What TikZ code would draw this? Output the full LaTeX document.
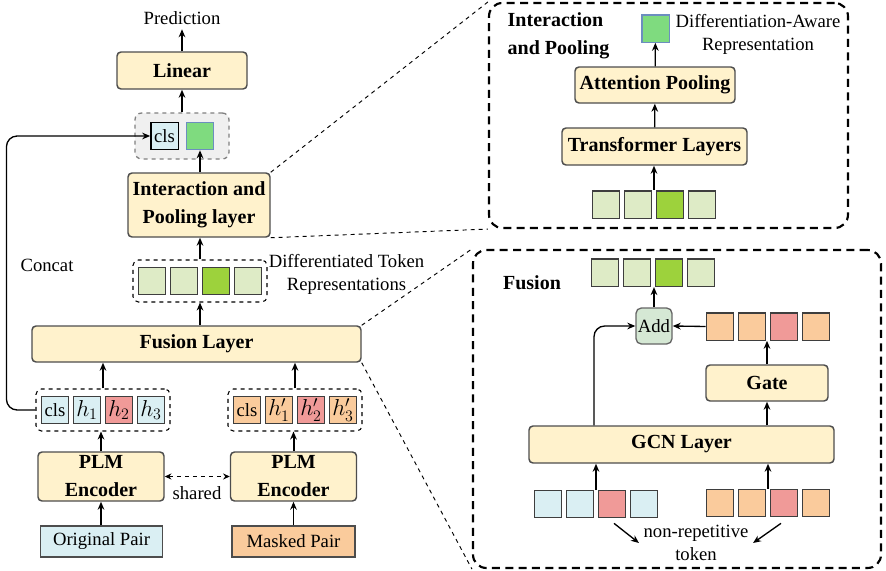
\documentclass[tikz,border=0pt]{standalone}
\usepackage{fontspec}
\setmainfont{Liberation Serif}
\usetikzlibrary{arrows.meta,fit,calc}

\definecolor{boxfill}{HTML}{FFF2CC}
\definecolor{boxline}{HTML}{4D4D4D}
\definecolor{tokcyan}{HTML}{DAEFF3}
\definecolor{tokred}{HTML}{F09A98}
\definecolor{tokorange}{HTML}{FACB9C}
\definecolor{toklight}{HTML}{DEEBC6}
\definecolor{tokdark}{HTML}{9DD23C}
\definecolor{awgreen}{HTML}{7FDB7F}
\definecolor{awline}{HTML}{6C8EBF}
\definecolor{addfill}{HTML}{D5E8D4}

\newcommand\hid[1]{{\fontsize{18}{20}\selectfont$#1$}}

\begin{document}
\begin{tikzpicture}[x=0.75pt,y=-0.75pt]
  \tikzset{%
    every node/.style={font=\fontsize{14}{17}\selectfont},
    bold/.style={font=\fontsize{15}{21}\selectfont\bfseries},
    layer/.style={bold,draw=boxline,fill=boxfill,line width=1.1pt,rounded corners=3pt,align=center,inner sep=0pt},
    tok/.style={draw=boxline!80!black,line width=1pt,minimum size=20.5pt,inner sep=0pt},
    grp/.style={draw,dashed,line width=0.8pt,rounded corners=4pt,inner xsep=3.5pt,inner ysep=5pt},
    arr/.style={-{Stealth[length=6pt,width=5pt]},line width=1pt},
    thick arr/.style={arr,line width=1.5pt},
    zoomline/.style={dashed,line width=0.7pt},
    panel/.style={draw,line width=1.6pt,dash pattern=on 6pt off 4pt,rounded corners=10pt,inner sep=0pt},
  }
  \useasboundingbox (0,0) rectangle (886,571);

  % ---- main pipeline
  \node (pred) at (182,18) {Prediction};
  \node[layer,minimum width=97.5pt,minimum height=27.75pt] (linear) at (182,70.5) {Linear};
  \node[draw=gray,fill=gray!12,dashed,line width=1pt,rounded corners=5pt,
        minimum width=70.5pt,minimum height=34.5pt] (cat) at (182,136) {};
  \node[tok,fill=tokcyan,draw=black] (cls) at (164.5,136) {cls};
  \node[tok,fill=awgreen,draw=awline] (aw) at (200,136) {};
  \node[layer,minimum width=106.5pt,minimum height=48pt] (inter) at (199,205) {Interaction and\\Pooling layer};
  \node (concat) at (47,265) {Concat};

  \foreach \c [count=\i] in {toklight,toklight,tokdark,toklight}
    \node[tok,fill=\c] (d\i) at ({152+32*(\i-1)},281) {};
  \node[grp,fit=(d1)(d4)] (diff) {};
  \node[align=center] (difflab) at (346.5,274.5) {Differentiated Token\\Representations};

  \node[layer,minimum width=246.75pt,minimum height=27pt] (fusion) at (196.5,344) {Fusion Layer};

  \foreach \c/\t [count=\i] in {tokcyan/cls,tokcyan/\hid{h_1},tokred/\hid{h_2},tokcyan/\hid{h_3}}
    \node[tok,fill=\c] (o\i) at ({55+32*(\i-1)},410) {\t};
  \node[grp,fit=(o1)(o4)] (ogrp) {};
  \foreach \c/\t [count=\i] in {tokorange/cls,tokorange/\hid{h'_1},tokred/\hid{h'_2},tokorange/\hid{h'_3}}
    \node[tok,fill=\c] (m\i) at ({247+32*(\i-1)},410) {\t};
  \node[grp,fit=(m1)(m4)] (mgrp) {};

  \node[layer,minimum width=94.5pt,minimum height=36.75pt] (plmo) at (101,476.5) {PLM\\Encoder};
  \node[layer,minimum width=94.5pt,minimum height=36.75pt] (plmm) at (293.5,476.5) {PLM\\Encoder};
  \node (shared) at (197,493) {shared};
  \node[draw=boxline,fill=tokcyan,line width=1pt,minimum width=91.5pt,minimum height=23.25pt] (orig) at (101.5,541.5) {Original Pair};
  \node[draw=boxline,fill=tokorange,line width=1pt,minimum width=92.25pt,minimum height=23.25pt] (mask) at (293.5,541.5) {Masked Pair};

  \draw[thick arr] (linear) -- (pred);
  \draw[thick arr] (cat) -- (linear);
  \draw[arr] (aw.south |- inter.north) -- (aw.south);
  \draw[arr] (diff.north) -- (diff.north |- inter.south);
  \draw[thick arr] (diff.south |- fusion.north) -- (diff.south);
  \draw[arr] (ogrp.north) -- (ogrp.north |- fusion.south);
  \draw[thick arr] (mgrp.north) -- (mgrp.north |- fusion.south);
  \draw[thick arr] (plmo.north) -- (plmo.north |- ogrp.south);
  \draw[thick arr] (plmm.north) -- (plmm.north |- mgrp.south);
  \draw[thick arr] (plmo.south |- orig.north) -- (plmo.south);
  \draw[arr] (mask) -- (plmm);
  \draw[arr,dashed,{Stealth[length=5pt,width=4.5pt]}-{Stealth[length=5pt,width=4.5pt]}] (plmo) -- (plmm);
  \draw[arr,rounded corners=8pt] (ogrp.west) -- ++(-29,0) |- (cls.west);%<- concat path

  % ---- interaction and pooling detail
  \node[panel,minimum width=269.25pt,minimum height=168.75pt] (ipbox) at (668.5,115.5) {};
  \node[bold,align=left,anchor=west] (iplab) at (503,36) {Interaction\\and Pooling};
  \node[tok,fill=awgreen,draw=awline] (awout) at (655.5,28.5) {};
  \node[align=center] (awlab) at (758,34.5) {Differentiation-Aware\\Representation};
  \node[layer,minimum width=120pt,minimum height=27pt] (attn) at (655,85) {Attention Pooling};
  \node[layer,minimum width=138.75pt,minimum height=27.75pt] (trans) at (654.5,146.5) {Transformer Layers};
  \foreach \c [count=\i] in {toklight,toklight,tokdark,toklight}
    \node[tok,fill=\c] (p\i) at ({606+32*(\i-1)},204.5) {};
  \node[fit=(p1)(p4),inner sep=0pt] (prow) {};

  \draw[arr] (prow.north) -- (prow.north |- trans.south);
  \draw[arr] (trans) -- (attn);
  \draw[arr] (attn) -- (awout);

  % ---- fusion detail
  \node[panel,minimum width=306pt,minimum height=238.5pt] (fusbox) at (677,409) {};
  \node[bold] (fuslab) at (532,283) {Fusion};
  \foreach \c [count=\i] in {toklight,toklight,tokdark,toklight}
    \node[tok,fill=\c] (f\i) at ({605+32*(\i-1)},272.5) {};
  \node[fit=(f1)(f4),inner sep=0pt] (frow) {};
  \node[draw=gray!80!black,fill=addfill,line width=1pt,rounded corners=4pt,minimum size=27pt,inner sep=0pt] (add) at (654,326) {Add};
  \foreach \c [count=\i] in {tokorange,tokorange,tokred,tokorange}
    \node[tok,fill=\c] (g\i) at ({720+32*(\i-1)},326.5) {};
  \node[layer,minimum width=91.5pt,minimum height=27pt] (gate) at (767,383) {Gate};
  \node[layer,minimum width=228.75pt,minimum height=27.75pt] (gcn) at (681.5,444.5) {GCN Layer};
  \foreach \c [count=\i] in {tokcyan,tokcyan,tokred,tokcyan}
    \node[tok,fill=\c] (b\i) at ({548+32*(\i-1)},504) {};
  \foreach \c [count=\i] in {tokorange,tokorange,tokred,tokorange}
    \node[tok,fill=\c] (c\i) at ({720+32*(\i-1)},503) {};
  \node[align=center] (nrlab) at (696,543) {non-repetitive\\token};

  \coordinate (skip) at (594,0);
  \coordinate (bin) at ($(b2.north east)!.5!(b3.north west)$);
  \coordinate (cin) at ($(c2.north east)!.5!(c3.north west)$);
  \draw[arr] (add.north) -- (add.north |- frow.south);
  \draw[arr] (g1.west) -- (add.east);
  \draw[arr] (gate.north) -- (gate.north |- g1.south);
  \draw[arr] (gcn.north -| gate) -- (gate.south);
  \draw[arr,rounded corners=8pt] (skip |- gcn.north) |- (add.west);%<- residual
  \draw[thick arr] (bin) -- (bin |- gcn.south);
  \draw[thick arr] (cin) -- (cin |- gcn.south);
  \draw[arr] ($(b3.south)+(2,5)$) -- (nrlab.west);
  \draw[arr] ($(c3.south)+(-3,6)$) -- (nrlab.east);

  % ---- zoom lines
  \draw[zoomline] (inter.north east) -- (ipbox.north west);
  \draw[zoomline] (inter.south east) -- (ipbox.south west);
  \draw[zoomline] (fusion.north east) -- (fusbox.north west);
  \draw[zoomline] (fusion.south east) -- (fusbox.south west);
\end{tikzpicture}
\end{document}
